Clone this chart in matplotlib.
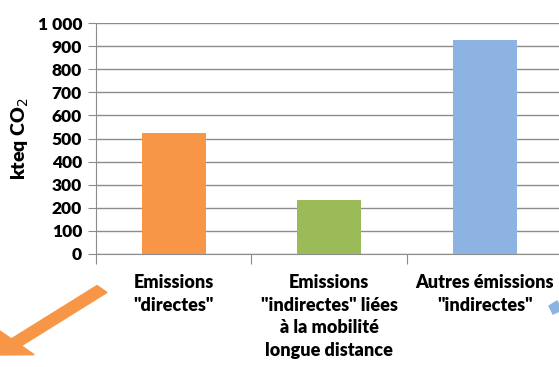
import matplotlib
matplotlib.use("Agg")
import matplotlib.pyplot as plt
from matplotlib.patches import FancyArrow, Polygon

categories = ['Emissions\n"directes"',
              'Emissions\n"indirectes" liées\nà la mobilité\nlongue distance',
              'Autres émissions\n"indirectes"']
values = [522, 235, 926]
colors = ['#F79646', '#9BBB59', '#8DB3E2']
yticks = [0, 100, 200, 300, 400, 500, 600, 700, 800, 900, 1000]
ytick_labels = ['0', '100', '200', '300', '400', '500', '600', '700', '800', '900', '1 000']

plt.rcParams['font.family'] = ['Lato', 'DejaVu Sans']

W, H = 559, 367
fig = plt.figure(figsize=(W / 100, H / 100), dpi=100)
ax = fig.add_axes([96 / W, 1 - 254 / H, 466.5 / W, 231 / H])

x = list(range(len(categories)))
ax.bar(x, values, width=0.41, color=colors, zorder=3)
ax.set_xlim(-0.5, 2.5)
ax.set_ylim(0, 1000)

grid_c = '#8c8c8c'
ax.set_yticks(yticks)
ax.set_yticklabels(ytick_labels, fontsize=12.5, fontweight='heavy')
ax.yaxis.grid(True, color=grid_c, lw=1, zorder=0)
ax.tick_params(axis='y', length=6, color=grid_c, pad=4)

# category boundaries get the tick marks, labels sit centred under each bar
ax.set_xticks([-0.5, 0.5, 1.5, 2.5])
ax.set_xticklabels([])
ax.tick_params(axis='x', length=7, color=grid_c)
for xi, lab in zip(x, categories):
    ax.text(xi, -85, lab, ha='center', va='top', fontsize=13, fontweight='heavy',
            linespacing=1.42, transform=ax.transData, clip_on=False)

for s in ['top', 'right']:
    ax.spines[s].set_visible(False)
for s in ['left', 'bottom']:
    ax.spines[s].set_color(grid_c)

ax.set_ylabel('kteq CO$_2$', fontsize=14, fontweight='heavy', labelpad=5)

# decorative arrows
fig.patches.append(FancyArrow(102 / W, 1 - 289 / H, -106 / W, -66 / H,
                              width=9.5 / H, head_width=34 / H, head_length=28 / W,
                              length_includes_head=True, color='#F79646',
                              transform=fig.transFigure, figure=fig))
fig.patches.append(Polygon([[549 / W, 1 - 306 / H], [557 / W, 1 - 301 / H],
                            [562 / W, 1 - 310 / H], [553 / W, 1 - 314 / H]],
                           closed=True, color='#8DB3E2', transform=fig.transFigure,
                           figure=fig))

fig.savefig('out.png', dpi=100)
